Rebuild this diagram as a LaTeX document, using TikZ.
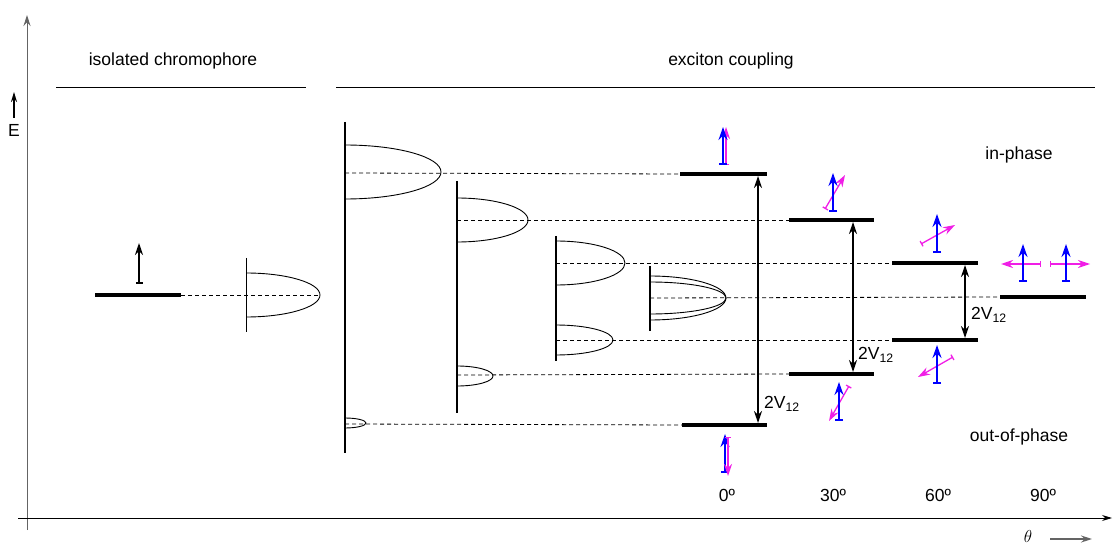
\documentclass[tikz,border=0pt]{standalone}
\usepackage{fontspec}
\setmainfont{Liberation Sans}
\usetikzlibrary{arrows.meta}
\definecolor{dipmag}{RGB}{240,30,230}
\definecolor{axisgray}{RGB}{100,100,100}
\tikzset{
  lbl/.style={inner sep=0pt, font=\fontsize{17.5}{20}\selectfont},
  level/.style={line width=3.4pt},
  guide/.style={dash pattern=on 4pt off 3pt, line width=0.8pt},
  stem/.style={line width=2pt},
  band/.style={line width=0.9pt},
  gap/.style={line width=1.3pt, {Stealth[length=12pt,width=8pt]}-{Stealth[length=12pt,width=8pt]}},
  dipb/.style={blue, line width=2pt, {Bar[width=8pt]}-{Stealth[length=13pt,width=9pt]}},
  dipm/.style={dipmag, line width=1.3pt, {Bar[width=6pt]}-{Stealth[length=12pt,width=8pt]}},
  dipk/.style={black, line width=1.6pt, {Bar[width=7pt]}-{Stealth[length=12pt,width=8pt]}},
}
\begin{document}
\begin{tikzpicture}[x=1pt, y=-1pt]
\useasboundingbox (0,0) rectangle (1113,545);

% axes
\draw[axisgray, line width=1pt, -{Stealth[length=11pt,width=7pt]}] (27,530) -- (27,15);
\draw[line width=0.9pt, -{Stealth[length=10pt,width=6pt]}] (18,518) -- (1112,518);
\coordinate (e0) at (14,118); \coordinate (e1) at (14,92);
\draw[line width=1.6pt, -{Stealth[length=10pt,width=6pt]}] (e0) -- (e1);
\node[lbl] (elabel) at (14,130) {E};
\node[lbl] (theta) at (1028,536) {$\theta$};
\coordinate (t0) at (1050,539); \coordinate (t1) at (1092,539);
\draw[axisgray, line width=1.3pt, -{Stealth[length=11pt,width=7pt]}] (t0) -- (t1);

% section headings
\node[lbl] (hiso) at (173,61) {isolated chromophore};
\draw[line width=0.9pt] (56,87) -- (306,87);
\node[lbl] (hexc) at (731,61) {exciton coupling};
\draw[line width=0.9pt] (336,87) -- (1095,87);

% isolated chromophore
\coordinate (iso0) at (95,295); \coordinate (iso1) at (181,295);
\draw[level] (iso0) -- (iso1);
\draw[dipk] (139,284) -- (139,243);
\draw[guide] (iso1) -- (320,295);
\draw[band] (246,258) -- (246,332);
\draw[band] (246,273) arc[start angle=-90, end angle=90, x radius=74, y radius=22];

% band manifolds
\draw[stem] (345,122) -- (345,453);
\draw[band] (345,145) arc[start angle=-90, end angle=90, x radius=96, y radius=27];
\draw[band] (345,418) arc[start angle=-90, end angle=90, x radius=21, y radius=5];

\draw[stem] (457,181) -- (457,413);
\draw[band] (457,198) arc[start angle=-90, end angle=90, x radius=71, y radius=22];
\draw[band] (457,366) arc[start angle=-90, end angle=90, x radius=36, y radius=10];

\draw[stem] (556,236) -- (556,361);
\draw[band] (556,241) arc[start angle=-90, end angle=90, x radius=69, y radius=22];
\draw[band] (556,325) arc[start angle=-90, end angle=90, x radius=57, y radius=15];

\draw[stem] (650,266) -- (650,331);
\draw[band] (650,276) arc[start angle=-90, end angle=90, x radius=76, y radius=22];
\draw[band] (650,282) arc[start angle=-90, end angle=90, x radius=76, y radius=16];

% exciton levels
\coordinate (a0u) at (680,174); \coordinate (a1u) at (767,174);
\coordinate (a0d) at (682,425); \coordinate (a1d) at (767,425);
\coordinate (b0u) at (789,220); \coordinate (b1u) at (874,220);
\coordinate (b0d) at (789,374); \coordinate (b1d) at (874,374);
\coordinate (c0u) at (892,263); \coordinate (c1u) at (978,263);
\coordinate (c0d) at (892,340); \coordinate (c1d) at (978,340);
\coordinate (d0) at (1000,297); \coordinate (d1) at (1086,297);

\draw[guide] (345,173) -- (a0u);
\draw[guide] (345,424) -- (a0d);
\draw[guide] (457,220) -- (b0u);
\draw[guide] (457,375) -- (b0d);
\draw[guide] (556,263) -- (c0u);
\draw[guide] (556,340) -- (c0d);
\draw[guide] (650,298) -- (d0);

\foreach \p in {a,b,c} {
  \draw[level] (\p0u) -- (\p1u);
  \draw[level] (\p0d) -- (\p1d);
}
\draw[level] (d0) -- (d1);

% splittings
\draw[gap] (758,176) -- (758,423);
\node[lbl, anchor=west] (va) at (764,404) {2V\textsubscript{12}};
\draw[gap] (853,222) -- (853,372);
\node[lbl, anchor=west] (vb) at (858,355) {2V\textsubscript{12}};
\draw[gap] (965,265) -- (965,338);
\node[lbl, anchor=west] (vc) at (971,315) {2V\textsubscript{12}};

% transition dipoles: 0 deg
\draw[dipm] (726,165) -- (726,127);
\draw[dipb] (723,165) -- (723,127);
\draw[dipb] (725,473) -- (725,434);
\draw[dipm] (728,437) -- (728,476);
% 30 deg
\draw[dipm] (825,209) -- (845,175);
\draw[dipb] (833,212) -- (833,173);
\draw[dipm] (849,386) -- (829,421);
\draw[dipb] (839,421) -- (839,382);
% 60 deg
\draw[dipm] (921,244) -- (955,225);
\draw[dipb] (937,253) -- (937,214);
\draw[dipm] (953,357) -- (918,377);
\draw[dipb] (937,384) -- (937,345);
% 90 deg
\draw[dipm] (1041,264) -- (1001,264);
\draw[dipb] (1023,282) -- (1023,244);
\draw[dipm] (1050,264) -- (1090,264);
\draw[dipb] (1066,282) -- (1066,244);

% labels
\node[lbl] (inph) at (1019,155) {in-phase};
\node[lbl] (outph) at (1019,437) {out-of-phase};
\node[lbl] (deg0) at (727,495) {0º};
\node[lbl] (deg30) at (833,495) {30º};
\node[lbl] (deg60) at (938,495) {60º};
\node[lbl] (deg90) at (1043,495) {90º};
\end{tikzpicture}
\end{document}
